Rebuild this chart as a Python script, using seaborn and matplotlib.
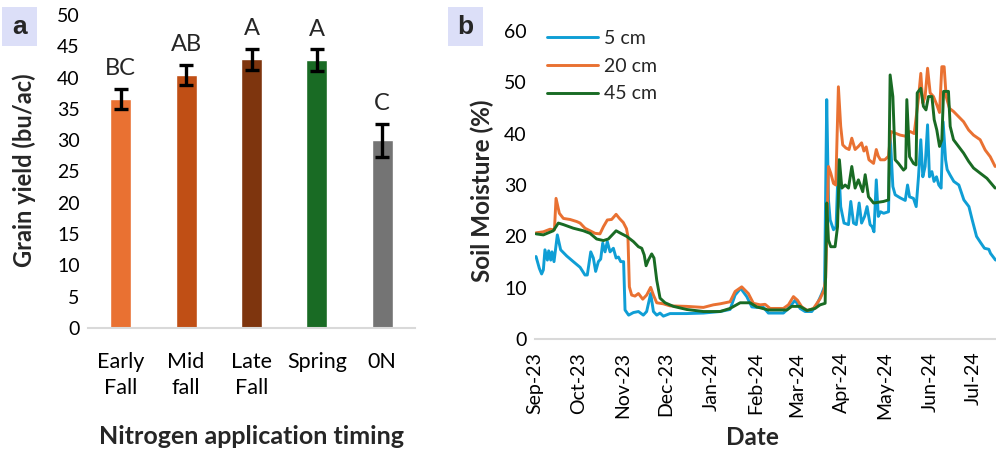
import pandas as pd
import seaborn as sns
import matplotlib.pyplot as plt
import matplotlib.dates as mdates
from matplotlib.patches import Rectangle

# Panel a - grain yield
timing = ["Early\nFall", "Mid\nfall", "Late\nFall", "Spring", "0N"]
yield_mean = [36.6, 40.4, 42.9, 42.8, 30.0]
yield_err = [1.6, 1.6, 1.65, 1.7, 2.65]
letters = ["BC", "AB", "A", "A", "C"]
bar_colors = ["#E97132", "#C04F15", "#7E350E", "#196B24", "#747474"]

# Panel b - soil moisture (days after 1 Sep 2023)
start = pd.Timestamp("2023-09-01")
days_5 = [0.7, 3, 4.6, 5.8, 6.9, 8.6, 9.5, 10.9, 11.8, 13.2, 15.5, 17.8, 22, 26.6, 31.3,
          34.7, 36.3, 38.7, 40.5, 42.1, 44, 45.6, 47, 48.6, 50.2, 52.1, 54.4, 56.3, 57.9, 59.5,
          61.5, 62.5, 65, 68.3, 71.8, 75.2, 77.5, 80.3, 82.2, 84.5, 86.8, 89.1, 93.7, 105, 117,
          128.5, 135.4, 138.9, 142.8, 147, 150.5, 153.9, 158.6, 162, 172.4, 175.9, 180.6, 184, 187.5, 192.1,
          195.6, 199.1, 201, 202.5, 203.7, 204.9, 207.2, 209, 210.6, 212.2, 214.5, 217.6, 219.2, 221.1, 223,
          225, 226.7, 228.8, 230.5, 232.6, 234, 235.3, 236.9, 238.3, 239.8, 242, 245.4, 246.5, 248.4, 250,
          253.5, 257, 258.6, 260, 262.7, 264.6, 266.2, 267.8, 269.2, 270.8, 272.5, 273.8, 275.5, 277, 278.7,
          280.3, 281.9, 283.3, 285, 286.1, 288, 290.7, 294.2, 297.7, 301.2, 303.5, 306.5, 309.3, 312, 315,
          316.2, 319.7]
moist_5 = [16.1, 13.8, 12.7, 13.5, 17.4, 15.4, 17.2, 15.4, 17.0, 15.1, 20.3, 17.4, 16.2, 15.1, 14.0,
           12.5, 12.5, 17.0, 15.8, 13.2, 15.1, 15.6, 18.7, 17.0, 19.0, 17.0, 17.7, 15.8, 16.0, 15.1,
           15.1, 5.7, 4.7, 5.2, 5.4, 4.7, 5.4, 8.9, 5.4, 4.7, 5.1, 4.5, 5.0, 5.0, 5.1,
           5.4, 5.8, 8.6, 9.9, 8.3, 6.3, 6.2, 6.2, 5.1, 5.1, 6.0, 7.6, 6.0, 5.4, 5.4,
           6.7, 8.9, 10.3, 46.6, 27.1, 23.2, 21.3, 21.9, 34.9, 25.8, 22.6, 22.3, 26.8, 22.6, 22.3,
           26.5, 22.6, 23.9, 25.8, 22.3, 21.9, 20.9, 31.0, 23.9, 24.8, 24.5, 24.8, 40.1, 29.7, 28.1,
           27.5, 27.0, 30.0, 27.7, 27.4, 25.8, 31.6, 38.8, 31.6, 33.6, 41.7, 31.6, 32.6, 30.7, 31.6,
           30.0, 29.4, 42.3, 34.9, 33.0, 32.0, 30.7, 30.0, 27.1, 25.8, 23.2, 20.0, 18.8, 17.7, 17.5,
           16.7, 15.4]

days_20 = [0.7, 5.8, 10.4, 13.5, 14.6, 16.9, 19.7, 24.3, 28.9, 31.3, 34.7, 38.2, 41.7, 45.1, 47.5,
           50.2, 53.2, 56.3, 58.6, 61.3, 63.5, 64.5, 65.5, 67.1, 69.4, 71.8, 74.8, 77.5, 80.3, 82.2,
           84.5, 89.1, 93.7, 105.3, 116.9, 123.8, 128.5, 135.4, 138.9, 143.5, 148.1, 151.6, 156.3, 159.7, 163.2,
           172.4, 175.9, 179.4, 182.2, 185.2, 189.1, 193.3, 197.9, 200.7, 201.8, 203.7, 205.3, 207.2, 208.8, 210.6,
           212.2, 213.6, 215.8, 218, 219.9, 222.2, 224.5, 226.7, 228.3, 229.9, 231.8, 235, 236.9, 238.3, 239.8,
           242.8, 245.4, 247, 253.5, 257, 260.4, 263.2, 266.2, 267.8, 269.2, 270.8, 272.5, 274.3, 276.6, 278.9,
           280.8, 282.4, 284, 285.4, 287.7, 290.5, 294, 297.5, 301, 304.4, 309, 312.5, 316, 319.4]
moist_20 = [20.7, 20.9, 21.4, 21.3, 27.4, 24.5, 23.5, 23.3, 22.9, 22.6, 21.6, 21.1, 20.6, 20.5, 21.9,
            23.2, 23.3, 24.3, 23.5, 22.7, 21.5, 20.0, 10.2, 8.6, 8.4, 8.9, 7.8, 8.6, 10.1, 8.6,
            7.1, 6.9, 6.5, 6.4, 6.2, 6.7, 6.9, 7.3, 9.3, 10.2, 8.9, 7.0, 6.7, 6.8, 6.0,
            6.0, 6.7, 8.3, 7.6, 6.3, 5.6, 6.0, 7.9, 9.6, 12.0, 33.6, 32.3, 30.3, 30.0, 49.1,
            41.4, 37.8, 37.2, 36.9, 39.1, 36.9, 37.5, 38.2, 36.6, 37.4, 34.9, 34.2, 36.9, 35.6, 34.9,
            34.9, 35.6, 40.4, 39.7, 39.5, 40.4, 40.0, 46.9, 51.7, 45.9, 47.2, 52.7, 47.9, 47.2, 45.6,
            44.1, 53.0, 53.0, 47.2, 44.9, 44.3, 43.3, 42.3, 40.7, 39.7, 38.8, 36.8, 35.5, 33.6]

days_45 = [0.7, 5.8, 12.7, 16.2, 19.7, 26.6, 33.6, 38.2, 42.8, 47.5, 50.9, 56.3, 60.2, 63.7, 68.3,
           71.8, 74.1, 75.8, 77.1, 78.7, 81, 82.6, 84.5, 86.8, 90.3, 96.1, 105.3, 116.9, 128.5, 135.4,
           142.4, 149.3, 153.9, 162, 174.8, 178.2, 184, 188.7, 194.4, 197.9, 201.4, 202.5, 203.7, 205.3, 208.3,
           210, 211.3, 213, 215.3, 217.6, 219.9, 222.2, 224.5, 227.5, 229.2, 231.5, 235, 241.9, 245.4, 246.5,
           248.4, 250, 252.3, 255.8, 257.3, 258.1, 260, 262.7, 264.5, 265.3, 267.8, 269.6, 271.4, 273.1, 275.5,
           277.1, 278.9, 280.8, 282.4, 283.6, 287, 288.2, 290.5, 294, 297.5, 301, 304.4, 309, 313.7, 319.4]
moist_45 = [20.5, 20.3, 21.1, 22.6, 22.3, 21.6, 21.1, 20.6, 19.5, 19.2, 19.5, 21.1, 20.5, 20.0, 19.0,
            18.0, 17.7, 16.4, 14.3, 15.4, 16.6, 15.8, 11.5, 8.0, 7.1, 6.4, 5.8, 5.4, 5.4, 6.0,
            7.1, 7.1, 6.3, 5.7, 5.7, 6.4, 6.4, 5.6, 6.0, 6.7, 7.0, 26.5, 19.3, 18.0, 18.0,
            21.9, 34.9, 29.4, 30.0, 29.4, 33.6, 29.4, 31.0, 28.7, 32.0, 27.7, 26.5, 26.8, 27.1, 51.4,
            47.2, 34.9, 34.2, 32.9, 33.3, 46.6, 35.5, 34.2, 33.9, 47.9, 48.8, 45.3, 44.6, 47.2, 47.2,
            42.7, 40.7, 37.5, 38.8, 48.2, 48.2, 41.4, 38.8, 37.5, 36.2, 34.6, 33.3, 32.3, 31.3, 29.4]

depth_colors = {"5 cm": "#0F9ED5", "20 cm": "#E97132", "45 cm": "#196B24"}

sns.set_style("white")
plt.rcParams["font.family"] = ["Lato", "DejaVu Sans"]

fig = plt.figure(figsize=(9.96, 4.5), dpi=100)
ax1 = fig.add_axes([88 / 996, 122 / 450, 327 / 996, 313 / 450])
ax2 = fig.add_axes([535 / 996, 110.7 / 450, 461 / 996, 308.6 / 450])

# ---- panel a
df_a = pd.DataFrame({"timing": timing, "yield": yield_mean})
sns.barplot(data=df_a, x="timing", y="yield", hue="timing", palette=bar_colors,
            width=0.32, legend=False, ax=ax1, saturation=1)
ax1.errorbar(range(len(timing)), yield_mean, yerr=yield_err, fmt="none", ecolor="black",
             elinewidth=2.4, capsize=5, capthick=2.4)
for i, lab in enumerate(letters):
    ax1.annotate(lab, (i, yield_mean[i] + yield_err[i]), xytext=(0, 7), textcoords="offset points",
                 ha="center", va="bottom", fontsize=17)
ax1.set_xlim(-0.5, 4.5)
ax1.set_ylim(0, 50)
ax1.set_yticks(range(0, 51, 5))
ax1.tick_params(axis="y", length=0, labelsize=14, colors="black", pad=6)
ax1.tick_params(axis="x", length=0, labelsize=15.5, colors="black", pad=17)
for t in ax1.get_xticklabels():
    t.set_linespacing(1.4)
for s in ["top", "right", "left"]:
    ax1.spines[s].set_visible(False)
ax1.spines["bottom"].set_color("#D9D9D9")
ax1.spines["bottom"].set_linewidth(1.5)
ax1.set_xlabel("Nitrogen application timing", fontsize=18, fontweight="bold", va="center")
ax1.xaxis.set_label_coords(0.5, -0.348)
ax1.set_ylabel("Grain yield (bu/ac)", fontsize=17, fontweight="bold", va="center")
ax1.yaxis.set_label_coords(-0.196, 0.505)

# ---- panel b
frames = []
for name, d, v in [("5 cm", days_5, moist_5), ("20 cm", days_20, moist_20), ("45 cm", days_45, moist_45)]:
    frames.append(pd.DataFrame({"date": start + pd.to_timedelta(d, unit="D"), "moisture": v, "depth": name}))
df_b = pd.concat(frames, ignore_index=True)
sns.lineplot(data=df_b, x="date", y="moisture", hue="depth", palette=depth_colors,
             estimator=None, linewidth=2.1, ax=ax2)
ax2.set_xlim(start, start + pd.Timedelta(days=320))
ax2.set_ylim(0, 60)
ax2.set_yticks(range(0, 61, 10))
ax2.xaxis.set_major_locator(mdates.MonthLocator())
ax2.xaxis.set_major_formatter(mdates.DateFormatter("%b-%y"))
ax2.tick_params(axis="y", length=0, labelsize=14, colors="black", pad=6)
ax2.tick_params(axis="x", length=6, width=1.2, color="#D9D9D9", labelsize=14,
                labelcolor="black", rotation=90, pad=3)
for s in ["top", "right", "left"]:
    ax2.spines[s].set_visible(False)
ax2.spines["bottom"].set_color("#D9D9D9")
ax2.spines["bottom"].set_linewidth(1.5)
ax2.set_xlabel("Date", fontsize=17.5, fontweight="bold", va="center")
ax2.xaxis.set_label_coords(0.471, -0.317)
ax2.set_ylabel("Soil Moisture (%)", fontsize=17.5, fontweight="bold", va="center")
ax2.yaxis.set_label_coords(-0.115, 0.48)
ax2.legend(title=None, frameon=False, loc="upper left", bbox_to_anchor=(-0.011, 1.06),
           fontsize=14, handlelength=2.6, labelspacing=0.56, handletextpad=0.3)

# panel letters
for lab, x0 in [("a", 2), ("b", 448)]:
    fig.patches.append(Rectangle((x0 / 996, 404 / 450), 35 / 996, 39 / 450,
                                 transform=fig.transFigure, facecolor="#DCDFF8", edgecolor="none"))
    fig.text((x0 + 17.5) / 996, 423.5 / 450, lab, ha="center", va="center", fontsize=19,
             fontweight="bold", family="Liberation Sans")

fig.savefig("out.png", dpi=100)
